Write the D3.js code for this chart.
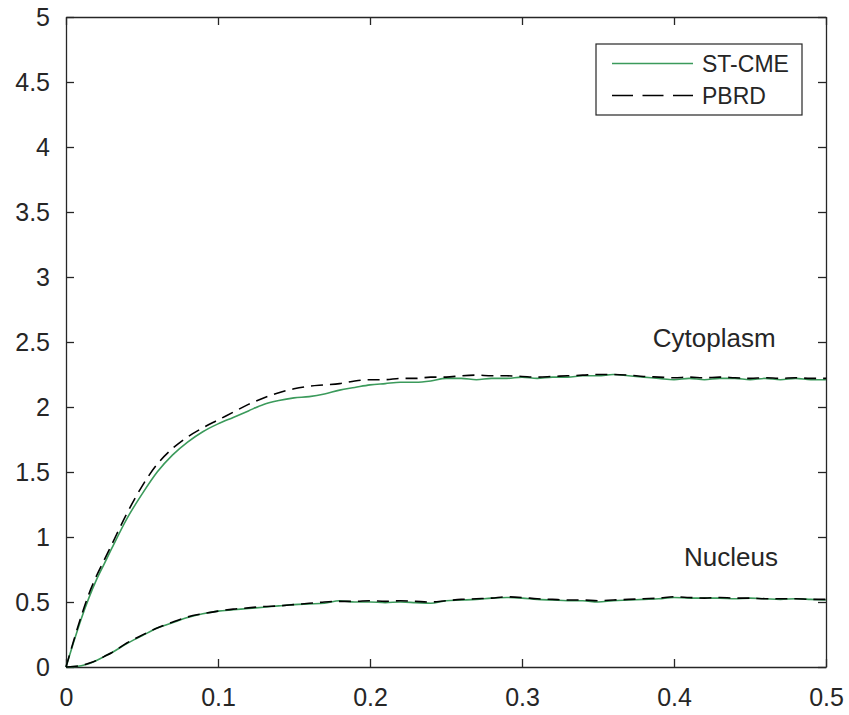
<!DOCTYPE html>
<html><head><meta charset="utf-8">
<script src="https://cdn.jsdelivr.net/npm/d3@7"></script>
<style>body{margin:0;background:#fff;} text{font-family:"Liberation Sans",Arial,sans-serif;}</style>
</head><body>
<svg id="chart" width="849" height="715"></svg>
<script>
const time = [0,0.005,0.01,0.015,0.02,0.025,0.03,0.04,0.05,0.06,0.07,0.08,0.09,0.10,0.11,0.12,0.13,0.14,0.15,0.16,0.17,0.18,0.19,0.20,0.21,0.22,0.23,0.24,0.25,0.26,0.27,0.28,0.29,0.30,0.31,0.32,0.33,0.34,0.35,0.36,0.37,0.38,0.39,0.40,0.41,0.42,0.43,0.44,0.45,0.46,0.47,0.48,0.49,0.50];
const cytoST = [0,0.19,0.37,0.53,0.67,0.79,0.91,1.14,1.33,1.50,1.63,1.73,1.81,1.87,1.92,1.97,2.02,2.05,2.07,2.08,2.10,2.13,2.15,2.17,2.18,2.19,2.19,2.20,2.22,2.22,2.21,2.22,2.22,2.23,2.22,2.23,2.23,2.24,2.24,2.25,2.24,2.23,2.22,2.21,2.22,2.21,2.22,2.22,2.21,2.22,2.21,2.22,2.21,2.21];
const cytoPB = [0,0.20,0.39,0.56,0.70,0.82,0.94,1.18,1.39,1.56,1.68,1.77,1.84,1.90,1.96,2.02,2.07,2.11,2.14,2.16,2.17,2.18,2.20,2.21,2.21,2.22,2.22,2.23,2.23,2.24,2.245,2.24,2.24,2.235,2.23,2.235,2.24,2.245,2.25,2.25,2.245,2.235,2.23,2.225,2.23,2.225,2.23,2.225,2.22,2.225,2.22,2.225,2.22,2.22];
const nucST = [0,0.003,0.01,0.025,0.05,0.08,0.11,0.18,0.24,0.30,0.34,0.38,0.41,0.43,0.44,0.45,0.46,0.47,0.48,0.485,0.49,0.51,0.50,0.50,0.495,0.50,0.495,0.49,0.51,0.515,0.52,0.53,0.535,0.53,0.52,0.515,0.51,0.51,0.50,0.51,0.515,0.52,0.525,0.535,0.53,0.53,0.53,0.525,0.53,0.525,0.52,0.525,0.52,0.515];
const nucPB = [0,0.004,0.012,0.028,0.05,0.08,0.11,0.185,0.245,0.30,0.345,0.385,0.41,0.43,0.445,0.455,0.465,0.47,0.48,0.49,0.50,0.505,0.505,0.51,0.505,0.51,0.505,0.50,0.51,0.52,0.525,0.53,0.54,0.535,0.525,0.52,0.515,0.515,0.51,0.515,0.52,0.525,0.53,0.54,0.535,0.53,0.535,0.53,0.53,0.525,0.525,0.525,0.52,0.52];
const xTicks = [0,0.1,0.2,0.3,0.4,0.5];
const yTicks = [0,0.5,1,1.5,2,2.5,3,3.5,4,4.5,5];
const legendLabels = ["ST-CME","PBRD"];
const annotations = [{text:"Cytoplasm", t:0.386, v:2.46},{text:"Nucleus", t:0.4066, v:0.777}];

const svg = d3.select("#chart");
const L=66, R=826, T=17, B=667;
const x = d3.scaleLinear().domain([0,0.5]).range([L,R]);
const y = d3.scaleLinear().domain([0,5]).range([B,T]);
const axisColor = "#262626";
const green = "#3b9a5b";
const fmt = d => d===0 ? "0" : String(+d.toFixed(2));

const gB = svg.append("g").attr("transform",`translate(0,${B})`)
  .call(d3.axisBottom(x).tickValues(xTicks).tickFormat(fmt).tickSizeInner(-8).tickSizeOuter(0).tickPadding(21));
const gT = svg.append("g").attr("transform",`translate(0,${T})`)
  .call(d3.axisTop(x).tickValues(xTicks).tickFormat("").tickSizeInner(-8).tickSizeOuter(0));
const gL = svg.append("g").attr("transform",`translate(${L},0)`)
  .call(d3.axisLeft(y).tickValues(yTicks).tickFormat(fmt).tickSizeInner(-8).tickSizeOuter(0).tickPadding(16));
const gR = svg.append("g").attr("transform",`translate(${R},0)`)
  .call(d3.axisRight(y).tickValues(yTicks).tickFormat("").tickSizeInner(-8).tickSizeOuter(0));
[gB,gT,gL,gR].forEach(g=>{
  g.selectAll(".domain").attr("stroke",axisColor).attr("stroke-width",1.3);
  g.selectAll(".tick line").attr("stroke",axisColor).attr("stroke-width",1.3);
  g.selectAll(".tick text").attr("fill",axisColor).style("font-size","25px").style("font-family","'Liberation Sans',Arial,sans-serif");
});

const line = arr => d3.line().x((d,i)=>x(time[i])).y(d=>y(d)).curve(d3.curveMonotoneX)(arr);
[cytoST,nucST].forEach(a=>svg.append("path").attr("d",line(a)).attr("fill","none").attr("stroke",green).attr("stroke-width",1.6));
[cytoPB,nucPB].forEach(a=>svg.append("path").attr("d",line(a)).attr("fill","none").attr("stroke","#000").attr("stroke-width",1.6).attr("stroke-dasharray","12,7"));

annotations.forEach(a=>svg.append("text").attr("x",x(a.t)).attr("y",y(a.v)).text(a.text)
  .attr("fill",axisColor).style("font-size","26px"));

// legend
const lg = svg.append("g");
lg.append("rect").attr("x",596).attr("y",44).attr("width",206).attr("height",71).attr("fill","#fff").attr("stroke",axisColor).attr("stroke-width",1.2);
lg.append("line").attr("x1",612).attr("x2",693).attr("y1",63.5).attr("y2",63.5).attr("stroke",green).attr("stroke-width",1.6);
lg.append("line").attr("x1",612).attr("x2",693).attr("y1",95.5).attr("y2",95.5).attr("stroke","#000").attr("stroke-width",1.6).attr("stroke-dasharray","21,9.5");
legendLabels.forEach((t,i)=>lg.append("text").attr("x",702).attr("y",63.5+i*32).attr("dy","0.36em").text(t).attr("fill",axisColor).style("font-size","23px"));
</script>
</body></html>
